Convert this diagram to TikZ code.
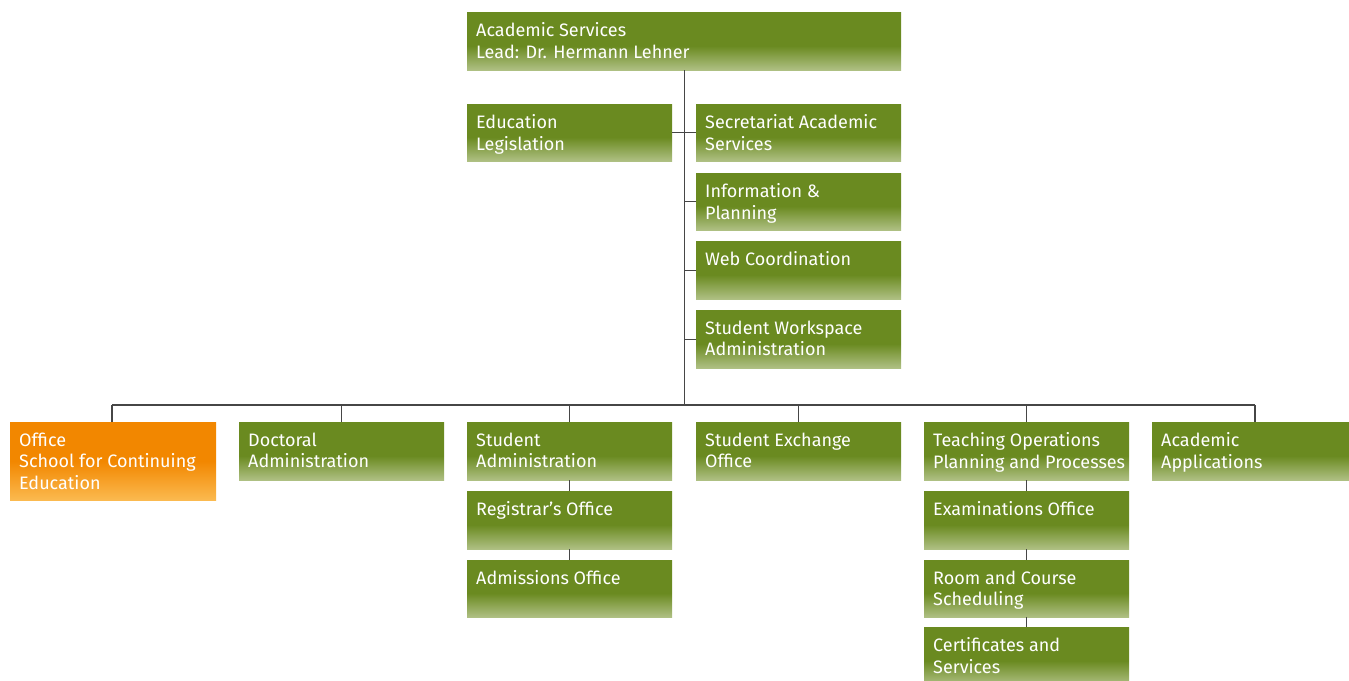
\documentclass[tikz,border=0pt]{standalone}
\usepackage{fontspec}
\setmainfont{Fira Sans}
\definecolor{gd}{RGB}{106,138,32}
\definecolor{gl}{RGB}{175,192,132}
\definecolor{od}{RGB}{242,135,0}
\definecolor{ol}{RGB}{251,186,80}
\definecolor{ln}{RGB}{70,70,70}
\pgfdeclareverticalshading{gshade}{100bp}{color(0bp)=(gl); color(25bp)=(gl); color(46bp)=(gd); color(100bp)=(gd)}
\pgfdeclareverticalshading{oshade}{100bp}{color(0bp)=(ol); color(25bp)=(ol); color(50bp)=(od); color(100bp)=(od)}
\tikzset{
  gbox/.style={rectangle, inner sep=0pt, shading=gshade, draw=none},
  obox/.style={rectangle, inner sep=0pt, shading=oshade, draw=none},
  txt/.style={text=white, font=\fontsize{18}{21.5}\selectfont, align=left, inner sep=0pt},
  conn/.style={draw=ln, line width=1.1pt}
}
\newcommand\bx[7][gbox]{%
  \node[#1, minimum width=#5pt, minimum height=#6pt, anchor=north west] (#2) at (#3,#4) {};
  \node[txt, anchor=north west] (#2-t) at ([xshift=9pt,yshift=-10.5pt]#2.north west) {#7};
}
\begin{document}
\begin{tikzpicture}[x=1pt,y=-1pt]
\useasboundingbox (0,0) rectangle (1349,680);
% boxes
\bx{top}{467}{12}{434}{58}{Academic Services\\Lead: Dr. Hermann Lehner}
\bx{edu}{467}{104}{205}{57}{Education\\Legislation}
\bx{sec}{696}{104}{205}{57}{Secretariat Academic\\Services}
\bx{info}{696}{173}{205}{57}{Information \&\\Planning}
\bx{web}{696}{241}{205}{58}{Web Coordination}
\bx{work}{696}{310}{205}{58}{Student Workspace\\Administration}
\bx[obox]{off}{10}{422}{206}{78}{Office\\School for Continuing\\Education}
\bx{doc}{239}{422}{205}{58}{Doctoral\\Administration}
\bx{sadm}{467}{422}{205}{58}{Student\\Administration}
\bx{exch}{696}{422}{205}{58}{Student Exchange\\Office}
\bx{teach}{924}{422}{205}{58}{Teaching Operations\\Planning and Processes}
\bx{apps}{1152}{422}{205}{58}{Academic\\Applications}
\bx{reg}{467}{491}{205}{58}{Registrar's Office}
\bx{adm}{467}{560}{205}{57}{Admissions Office}
\bx{exam}{924}{491}{205}{58}{Examinations Office}
\bx{room}{924}{560}{205}{57}{Room and Course\\Scheduling}
\bx{cert}{924}{627}{205}{58}{Certificates and\\Services}
% connectors
\coordinate (busL) at (112,405);
\coordinate (busR) at (1255,405);
\draw[conn] (top.south) -- (top.south |- busL);
\draw[conn] (busL) -- (busR);
\draw[conn] (edu.east) -- (sec.west);
\draw[conn] (info.west) -- (info.west -| top.south);
\draw[conn] (web.west) -- (web.west -| top.south);
\draw[conn] (work.west) -- (work.west -| top.south);
\draw[conn] (busL) -- (busL |- off.north);
\draw[conn] (doc.north) -- (doc.north |- busL);
\draw[conn] (sadm.north) -- (sadm.north |- busL);
\draw[conn] (exch.north) -- (exch.north |- busL);
\draw[conn] (teach.north) -- (teach.north |- busL);
\draw[conn] (busR) -- (busR |- apps.north);
\draw[conn] (sadm.south) -- (reg.north);
\draw[conn] (reg.south) -- (adm.north);
\draw[conn] (teach.south) -- (exam.north);
\draw[conn] (exam.south) -- (room.north);
\draw[conn] (room.south) -- (cert.north);
\end{tikzpicture}
\end{document}
